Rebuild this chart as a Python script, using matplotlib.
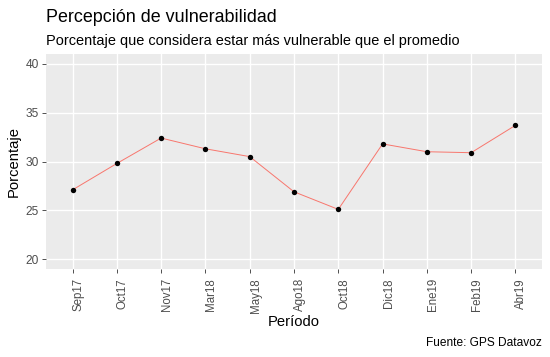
import numpy as np
import matplotlib
matplotlib.use("Agg")
import matplotlib.pyplot as plt
from matplotlib.transforms import ScaledTranslation

# datos
periodos = ["Sep17", "Oct17", "Nov17", "Mar18", "May18", "Ago18",
            "Oct18", "Dic18", "Ene19", "Feb19", "Abr19"]
porcentaje = [27.1, 29.8, 32.4, 31.3, 30.5, 26.9, 25.1, 31.8, 31.0, 30.9, 33.7]
yticks = [20, 25, 30, 35, 40]

plt.rcParams['font.family'] = ['Liberation Sans', 'DejaVu Sans']

fig = plt.figure(figsize=(5.5, 3.57), dpi=100)
fig.patch.set_facecolor('white')
ax = fig.add_axes([46/550, 1 - 269/357, (542 - 46)/550, (269 - 54)/357])
ax.set_facecolor('#EBEBEB')

x = np.arange(len(periodos))
ax.plot(x, porcentaje, color='#F8766D', linewidth=0.7, zorder=2)
ax.scatter(x, porcentaje, color='black', s=15, zorder=3, linewidths=0)

ax.set_xlim(-0.6, len(periodos) - 1 + 0.6)
ax.set_ylim(19, 41)
ax.set_xticks(x)
ax.set_xticklabels(periodos, rotation=90, fontsize=8.3, color='#4D4D4D',
                   ha='left', va='top')
# en ggplot las etiquetas rotadas quedan a la derecha de la marca
desplaz = ScaledTranslation(1.5/100, 0, fig.dpi_scale_trans)
for lab in ax.get_xticklabels():
    lab.set_transform(lab.get_transform() + desplaz)
ax.set_yticks(yticks)
ax.set_yticklabels([str(v) for v in yticks], fontsize=8.6, color='#4D4D4D')
ax.tick_params(length=3, width=0.6, color='#333333', pad=2)
ax.tick_params(axis='x', pad=3.5)

ax.grid(True, color='white', linewidth=1.0, zorder=0)
ax.set_axisbelow(True)
for s in ax.spines.values():
    s.set_visible(False)

ax.set_xlabel("Período", fontsize=10.6, labelpad=2)
ax.set_ylabel("Porcentaje", fontsize=10.6, labelpad=4)

fig.text(46/550, 1 - 17/357, "Percepción de vulnerabilidad", fontsize=12.9,
         ha='left', va='center')
fig.text(46/550, 1 - 41/357, "Porcentaje que considera estar más vulnerable que el promedio",
         fontsize=10.45, ha='left', va='center')
fig.text(542/550, 1 - 343/357, "Fuente: GPS Datavoz", fontsize=8.6,
         ha='right', va='center')

fig.savefig("out.png", dpi=100)
